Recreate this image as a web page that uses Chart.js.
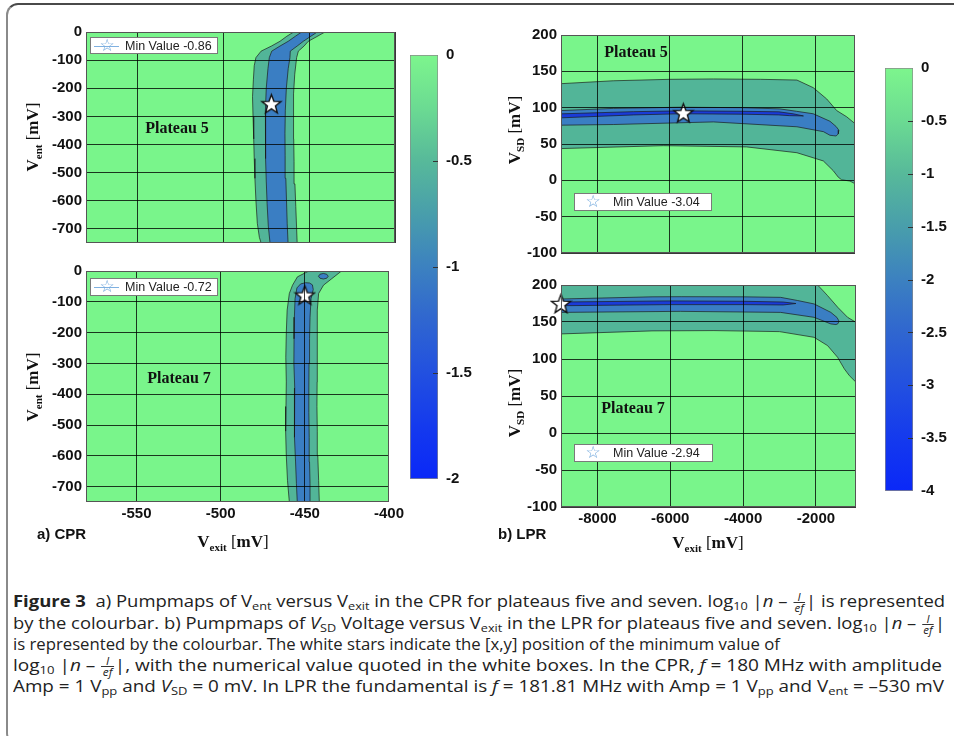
<!DOCTYPE html>
<html><head><meta charset="utf-8">
<script src="https://cdn.jsdelivr.net/npm/chart.js@4.4.1/dist/chart.umd.min.js"></script>
<style>
html,body{margin:0;padding:0;background:#fff;width:954px;height:736px;overflow:hidden;position:relative;font-family:'Liberation Sans',Arial,sans-serif;}
canvas{position:absolute;}
.frame{position:absolute;left:6px;top:3px;width:990px;height:742px;border-top:2px solid #4a4a4a;border-left:2px solid #8a8a8a;border-bottom:2px solid #8a8a8a;border-radius:12px 0 0 12px;box-sizing:border-box;}
.ptxt{position:absolute;font:bold 16px 'Liberation Serif','Times New Roman',serif;color:#111;transform:translate(-50%,-50%);white-space:nowrap;}
.ttl{position:absolute;font:bold 17px 'Liberation Serif','Times New Roman',serif;color:#111;white-space:nowrap;transform:translate(-50%,-50%);}
.ttl sub{font-size:11px;vertical-align:-4px;line-height:0;}
.ttl .br{font-weight:normal;}
.rot{transform:translate(-50%,-50%) rotate(-90deg);}
.plab{position:absolute;font:bold 15px 'Liberation Sans',Arial,sans-serif;color:#111;white-space:nowrap;transform:translateY(-50%);}
.leg{position:absolute;background:#fff;border:1px solid #7a7a7a;box-sizing:border-box;}
.leg .ln{position:absolute;top:50%;height:0;border-top:1px solid #7fb0e0;}
.leg .st{position:absolute;top:50%;transform:translate(-50%,-54%);font:17px 'DejaVu Sans',sans-serif;color:#6fa7dc;line-height:1;}
.leg .tx{position:absolute;top:50%;transform:translateY(-50%);font:12.5px 'Liberation Sans',Arial,sans-serif;color:#222;white-space:nowrap;}
.cap{position:absolute;left:13px;font:16px 'Open Sans',sans-serif;color:#222;white-space:nowrap;line-height:21px;transform-origin:0 50%;display:inline-block;}
.cap b{font-weight:700;color:#222;}
.cap sub{font-size:11px;vertical-align:-3px;line-height:0;}
.fr{display:inline-block;vertical-align:middle;font-size:10px;font-style:italic;text-align:center;line-height:10px;margin:0 1px;}
.fr span{display:block;padding:0 1px;}
.fr .n{border-bottom:1px solid #333;}
</style>
</head><body>
<div class="frame"></div>

<script>
// ---------------- data ----------------
const cprXRange = [-580, -400];
const cprYRange = [-750, 0];
const lprXRange = [-9000, -900];
const lprYRange = [-100, 200];
const cprXTicks = [-550, -500, -450, -400];
const cprYTicks = [0, -100, -200, -300, -400, -500, -600, -700];
const lprXTicks = [-8000, -6000, -4000, -2000];
const lprYTicks = [200, 150, 100, 50, 0, -50, -100];
const cbCprRange = [-2, 0];
const cbLprRange = [-4, 0];
const cbCprTicks = [0, -0.5, -1, -1.5, -2];
const cbLprTicks = [0, -0.5, -1, -1.5, -2, -2.5, -3, -3.5, -4];
const plateauNames = ['Plateau 5', 'Plateau 7', 'Plateau 5', 'Plateau 7'];
const minValues = [-0.86, -0.72, -3.04, -2.94];

// star positions [Vexit, Vent/VSD]
const starCpr5 = [-472, -255];
const starCpr7 = [-450, -78];
const starLpr5 = [-5630, 93];
const starLpr7 = [-9000, 175];

// contour level boundaries (closed polygons, data units)
const cpr5Band1 = [[-459,0],[-463,-15],[-467,-33],[-472,-50],[-478,-68],[-481,-91],[-482,-120],[-482.5,-170],[-483,-230],[-482.7,-300],[-482.3,-380],[-482,-450],[-481.6,-520],[-481,-600],[-480.2,-680],[-479,-730],[-478,-750],
  [-457,-750],[-457.3,-700],[-457.8,-620],[-458.3,-540],[-458.8,-460],[-459,-380],[-459.2,-300],[-459,-220],[-458.4,-150],[-457.3,-91],[-456.3,-68],[-453,-50],[-450.5,-33],[-446,-18],[-440.8,0],[-459,0]];
const cpr5Band2 = [[-454.4,0],[-458,-15],[-462.2,-33],[-467,-50],[-471.8,-68],[-473.2,-91],[-474,-130],[-475,-200],[-475.5,-280],[-475.5,-360],[-475.3,-450],[-475,-530],[-474.5,-610],[-473.8,-690],[-472.8,-750],
  [-462.3,-750],[-462.8,-680],[-463.2,-600],[-463.6,-520],[-464,-440],[-464.1,-360],[-463.9,-280],[-463.3,-200],[-462.2,-130],[-461.2,-91],[-461,-68],[-457,-50],[-453.4,-33],[-449,-15],[-445.3,0],[-454.4,0]];
const cpr7Band1 = [[-447.6,0],[-454.4,-19],[-457.3,-46],[-459.2,-73],[-460.5,-127],[-461,-200],[-461.3,-280],[-461,-360],[-461.2,-440],[-461.4,-520],[-461,-600],[-460.3,-680],[-459.2,-750],
  [-441.4,-750],[-441.8,-680],[-442.3,-600],[-442.6,-520],[-442.8,-440],[-442.7,-360],[-442.5,-280],[-442.6,-200],[-442.7,-127],[-441.8,-73],[-438.9,-46],[-434,-25],[-428.2,0],[-447.6,0]];
const cpr7Band2 = [[-449.5,-38],[-452.5,-42],[-454.7,-55],[-455.8,-90],[-456.2,-150],[-456.4,-220],[-456.5,-300],[-456,-380],[-456.3,-460],[-456,-540],[-455.5,-620],[-455,-690],[-454.5,-750],
  [-446.7,-750],[-446.9,-690],[-447.2,-620],[-447.4,-540],[-447.6,-460],[-447.6,-380],[-447.5,-300],[-447.2,-220],[-446.9,-150],[-446.3,-90],[-445,-60],[-445.5,-45],[-447.2,-39],[-449.5,-38]];
const cpr7Island = [[-436.1,-17],[-437,-10.5],[-439,-8],[-441,-10.5],[-441.9,-17],[-441,-23.5],[-439,-26],[-437,-23.5],[-436.1,-17]];
const lpr5Band1 = [[-9000,133],[-7560,137],[-6000,139],[-4800,139.5],[-3500,139],[-2500,138],[-2050,127.5],[-1680,112],[-1405,96],[-1130,87.5],[-900,78],
  [-900,-4.7],[-1038,-1],[-1267,0.7],[-1360,4.3],[-1500,13.3],[-1773,26.7],[-2500,38],[-3885,46],[-6180,47.7],[-9000,43.7],[-9000,133]];
const lpr5Band2 = [[-9000,96],[-7560,99],[-5720,100.6],[-4000,100],[-2970,98.3],[-2510,95],[-2050,91.6],[-1590,81.3],[-1420,74],[-1345,69],
  [-1360,64],[-1420,61],[-1500,61.5],[-1590,62],[-1770,67],[-2500,73.7],[-4800,80.4],[-7560,76.8],[-9000,75.9],[-9000,96]];
const lpr5Band3 = [[-9000,91.5],[-7000,94.5],[-5700,95.6],[-4000,95],[-3000,94.3],[-2600,91.5],[-2320,88.6],
  [-2700,89],[-3000,90],[-4000,91],[-5700,91.6],[-7000,90],[-9000,86],[-9000,91.5]];
const lpr7Band1 = [[-9000,200],[-1955,200],[-1800,192],[-1680,185.6],[-1400,169.8],[-1130,156.3],[-900,149.5],[-900,68.6],[-1084,77.6],[-1150,82],[-1221,86.7],[-1405,102.3],[-1680,118.1],[-2050,129.3],[-3000,137],[-4800,138.4],[-6500,138],[-9000,133.9],[-9000,200]];
const lpr7Band2 = [[-9000,181.1],[-6500,184],[-5700,184.2],[-4000,184],[-2970,183.3],[-2500,179],[-2050,174.4],[-1590,163],[-1420,156],[-1365,151],
  [-1400,147.5],[-1450,146.5],[-1590,147.4],[-2050,156.3],[-2970,163],[-5720,164.4],[-9000,163],[-9000,181.1]];
const lpr7Band3 = [[-9000,177],[-6000,178.5],[-4000,178],[-2900,177],[-2550,175],
  [-2900,173],[-4000,173.5],[-6000,173.5],[-9000,172],[-9000,177]];

// ---------------- style ----------------
const C_GREEN = '#79F58B', C_TEAL = '#52B598', C_BLUE = '#3A7EC3', C_DARK = '#1A3BD8';
const cmapStops = [[0,'#7DF58D'],[0.12,'#6CDC92'],[0.25,'#57B99A'],[0.38,'#489DAC'],[0.5,'#3C81C0'],[0.62,'#3067CF'],[0.75,'#2250E0'],[0.88,'#1439EE'],[1,'#0A28F8']];
const tickFont = {family:"'Liberation Sans', Arial, sans-serif", size:15, weight:'bold'};

function makeStar(size, fill, stroke, lw){
  const c = document.createElement('canvas'); c.width = c.height = size;
  const g = c.getContext('2d');
  const cx = size/2, cy = size/2 + 1, R = size/2 - 1.5, r = R*0.42;
  g.beginPath();
  for (let i = 0; i < 10; i++){ const a = -Math.PI/2 + i*Math.PI/5; const rad = i%2 ? r : R; g.lineTo(cx + rad*Math.cos(a), cy + rad*Math.sin(a)); }
  g.closePath(); g.fillStyle = fill; g.fill(); g.lineWidth = lw; g.strokeStyle = stroke; g.lineJoin = 'miter'; g.stroke();
  return c;
}
const starImg = makeStar(23, '#ffffff', '#111111', 1.4);

const panelPlugin = {
  id: 'panelbg',
  beforeDatasetsDraw(chart){ const a = chart.chartArea, c = chart.ctx; c.save(); c.fillStyle = C_GREEN; c.fillRect(a.left, a.top, a.width, a.height); c.restore(); },
  afterDraw(chart){ const a = chart.chartArea, c = chart.ctx; c.save(); c.strokeStyle = '#555'; c.lineWidth = 1; c.strokeRect(Math.round(a.left)+0.5, Math.round(a.top)+0.5, Math.round(a.width)-1, Math.round(a.height)-1); c.restore(); }
};

function placeCanvas(l, t, w, h){
  const cv = document.createElement('canvas');
  cv.width = w; cv.height = h;
  cv.style.left = l + 'px'; cv.style.top = t + 'px'; cv.style.width = w + 'px'; cv.style.height = h + 'px';
  document.body.appendChild(cv);
  return cv;
}

function makePanel(area, xr, yr, xt, yt, showX, polys, star){
  const padL = 5, yW = 55, padT = 12, padR = 12, xH = showX ? 26 : 0, padB = showX ? 6 : 8;
  const w = area.r - area.l + padL + yW + padR, h = area.b - area.t + padT + xH + padB;
  const cv = placeCanvas(area.l - padL - yW, area.t - padT, w, h);
  const datasets = polys.map((p, i) => ({
    data: p.pts.map(([x, y]) => ({x, y})), showLine: true, fill: 'shape', backgroundColor: p.color,
    borderColor: 'rgba(25,25,25,0.85)', borderWidth: 0.8, pointRadius: 0, tension: 0, order: 10 - i
  }));
  datasets.push({data: [{x: star[0], y: star[1]}], showLine: false, pointStyle: starImg, pointRadius: 11, clip: false, order: 0});
  const gridOpts = {color: 'rgba(0,0,0,0.78)', lineWidth: 1, drawTicks: false, z: 1};
  new Chart(cv, {
    type: 'scatter',
    data: {datasets},
    options: {
      responsive: false, animation: false, events: [],
      layout: {padding: {left: padL, right: padR, top: padT, bottom: padB}},
      plugins: {legend: {display: false}, tooltip: {enabled: false}},
      scales: {
        x: {type: 'linear', min: xr[0], max: xr[1],
            afterFit: s => { s.height = xH; },
            afterBuildTicks: s => { s.ticks = xt.map(v => ({value: v})); },
            grid: gridOpts,
            border: {display: false},
            ticks: {display: showX, padding: 3, font: tickFont, color: '#111', maxRotation: 0, autoSkip: false, callback: v => String(v)}},
        y: {type: 'linear', min: yr[0], max: yr[1],
            afterFit: s => { s.width = yW; },
            afterBuildTicks: s => { s.ticks = yt.map(v => ({value: v})); },
            grid: gridOpts,
            border: {display: false},
            ticks: {padding: 4, font: tickFont, color: '#111', autoSkip: false, callback: v => String(v)}}
      }
    },
    plugins: [panelPlugin]
  });
}

const cbTickPlugin = {
  id: 'cbticks',
  afterDatasetsDraw(chart){
    const a = chart.chartArea, c = chart.ctx, y = chart.scales.y;
    c.save(); c.strokeStyle = '#333'; c.lineWidth = 1;
    y.ticks.forEach(t => { if (t.value === y.min || t.value === y.max) return; const py = Math.round(y.getPixelForValue(t.value)) + 0.5; c.beginPath(); c.moveTo(a.right - 5, py); c.lineTo(a.right, py); c.stroke(); });
    c.restore();
  }
};

function makeCbar(area, range, ticks){
  const padL = 5, padR = 5, yW = 45, padT = 10, padB = 10;
  const w = area.r - area.l + padL + padR + yW, h = area.b - area.t + padT + padB;
  const cv = placeCanvas(area.l - padL, area.t - padT, w, h);
  new Chart(cv, {
    type: 'bar',
    data: {labels: [''], datasets: [{
      data: [[range[0], range[1]]],
      backgroundColor: ctx => { const a = ctx.chart.chartArea; if (!a) return C_GREEN; const g = ctx.chart.ctx.createLinearGradient(0, a.top, 0, a.bottom); cmapStops.forEach(([o, col]) => g.addColorStop(o, col)); return g; },
      borderColor: '#8a8a8a', borderWidth: 1, borderSkipped: false, categoryPercentage: 1, barPercentage: 1
    }]},
    options: {
      responsive: false, animation: false, events: [],
      layout: {padding: {left: padL, right: padR, top: padT, bottom: padB}},
      plugins: {legend: {display: false}, tooltip: {enabled: false}},
      scales: {
        x: {display: false},
        y: {position: 'right', min: range[0], max: range[1],
            afterFit: s => { s.width = yW; },
            afterBuildTicks: s => { s.ticks = ticks.map(v => ({value: v})); },
            grid: {display: false, drawTicks: false}, border: {display: false},
            ticks: {padding: 8, font: tickFont, color: '#111', autoSkip: false, callback: v => String(v)}}
      }
    },
    plugins: [cbTickPlugin]
  });
}

makePanel({l:86, t:31, r:395, b:248}, cprXRange, cprYRange, cprXTicks, cprYTicks, false,
  [{pts: cpr5Band1, color: C_TEAL}, {pts: cpr5Band2, color: C_BLUE}], starCpr5);
makePanel({l:86, t:270, r:395, b:502}, cprXRange, cprYRange, cprXTicks, cprYTicks, true,
  [{pts: cpr7Band1, color: C_TEAL}, {pts: cpr7Band2, color: C_BLUE}, {pts: cpr7Island, color: C_BLUE}], starCpr7);
makePanel({l:561, t:34, r:855, b:258}, lprXRange, lprYRange, lprXTicks, lprYTicks, false,
  [{pts: lpr5Band1, color: C_TEAL}, {pts: lpr5Band2, color: C_BLUE}, {pts: lpr5Band3, color: C_DARK}], starLpr5);
makePanel({l:561, t:284, r:856, b:507}, lprXRange, lprYRange, lprXTicks, lprYTicks, true,
  [{pts: lpr7Band1, color: C_TEAL}, {pts: lpr7Band2, color: C_BLUE}, {pts: lpr7Band3, color: C_DARK}], starLpr7);
makeCbar({l:410, t:48, r:438, b:486}, cbCprRange, cbCprTicks);
makeCbar({l:885, t:61, r:913, b:498}, cbLprRange, cbLprTicks);

// ---------------- annotations (HTML text) ----------------
function addHTML(html){ const d = document.createElement('div'); d.innerHTML = html; while (d.firstChild) document.body.appendChild(d.firstChild); }
const plateauPos = [[177,128],[179,378],[636,52],[633,408]];
plateauNames.forEach((n, i) => addHTML(`<div class="ptxt" style="left:${plateauPos[i][0]}px;top:${plateauPos[i][1]}px">${n}</div>`));

function legendBox(l, t, w, h, withLine, starX, textX, val){
  return `<div class="leg" style="left:${l}px;top:${t}px;width:${w}px;height:${h}px">` +
    (withLine ? `<div class="ln" style="left:3px;width:25px"></div>` : '') +
    `<div class="st" style="left:${starX}px">☆</div><div class="tx" style="left:${textX}px">Min Value ${val}</div></div>`;
}
addHTML(legendBox(90, 37, 128, 17, true, 16, 34, minValues[0].toFixed(2)));
addHTML(legendBox(90, 278, 128, 18, true, 16, 34, minValues[1].toFixed(2)));
addHTML(legendBox(574, 193, 138, 18, false, 18, 38, minValues[2].toFixed(2)));
addHTML(legendBox(574, 444, 139, 18, false, 18, 38, minValues[3].toFixed(2)));

addHTML(`<div class="ttl rot" style="left:33px;top:137px">V<sub>ent</sub> <span class="br">[</span>mV<span class="br">]</span></div>`);
addHTML(`<div class="ttl rot" style="left:33px;top:387px">V<sub>ent</sub> <span class="br">[</span>mV<span class="br">]</span></div>`);
addHTML(`<div class="ttl rot" style="left:515px;top:130px">V<sub>SD</sub> <span class="br">[</span>mV<span class="br">]</span></div>`);
addHTML(`<div class="ttl rot" style="left:515px;top:403px">V<sub>SD</sub> <span class="br">[</span>mV<span class="br">]</span></div>`);
addHTML(`<div class="ttl" style="left:233px;top:542px">V<sub>exit</sub> <span class="br">[</span>mV<span class="br">]</span></div>`);
addHTML(`<div class="ttl" style="left:708px;top:543px">V<sub>exit</sub> <span class="br">[</span>mV<span class="br">]</span></div>`);
addHTML(`<div class="plab" style="left:37px;top:533px">a) CPR</div>`);
addHTML(`<div class="plab" style="left:498px;top:533px">b) LPR</div>`);

const frac = `<span class="fr"><span class="n">I</span><span class="d">ef</span></span>`;
const capLines = [
  [`<b>Figure 3</b>&nbsp; a) Pumpmaps of V<sub>ent</sub> versus V<sub>exit</sub> in the CPR for plateaus five and seven. log<sub>10</sub> |<i>n</i> – ${frac}| is represented`, 601, 932],
  [`by the colourbar. b) Pumpmaps of <i>V</i><sub>SD</sub> Voltage versus V<sub>exit</sub> in the LPR for plateaus five and seven. log<sub>10</sub> |<i>n</i> – ${frac}|`, 623, 932],
  [`is represented by the colourbar. The white stars indicate the [x,y] position of the minimum value of`, 644, 767],
  [`log<sub>10</sub> |<i>n</i> – ${frac}|, with the numerical value quoted in the white boxes. In the CPR, <i>f</i> = 180 MHz with amplitude`, 665, 929],
  [`Amp = 1 V<sub>pp</sub> and <i>V</i><sub>SD</sub> = 0 mV. In LPR the fundamental is <i>f</i> = 181.81 MHz with Amp = 1 V<sub>pp</sub> and V<sub>ent</sub> = –530 mV`, 686, 931]
];
capLines.forEach(([h, y, tw]) => addHTML(`<div class="cap" data-w="${tw}" style="top:${y - 10.5}px">${h}</div>`));
function fitCaption(){
  document.querySelectorAll('.cap').forEach(el => { el.style.transform = 'none'; const w = el.getBoundingClientRect().width; el.style.transform = `scaleX(${(+el.dataset.w / w).toFixed(4)})`; });
}
fitCaption();
if (document.fonts && document.fonts.ready) document.fonts.ready.then(fitCaption);
</script>
</body></html>
